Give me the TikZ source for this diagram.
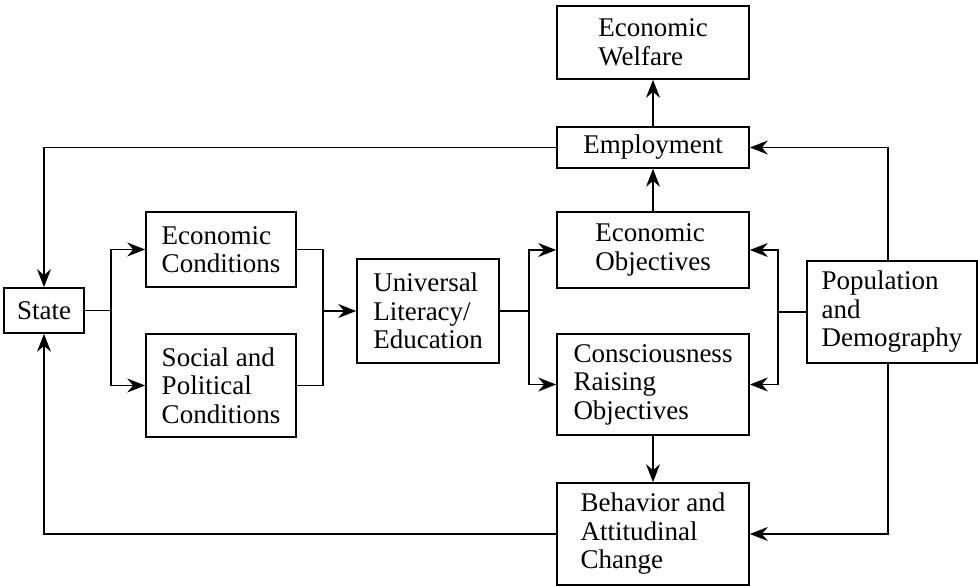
\documentclass[tikz,border=0pt]{standalone}
\usepackage{fontspec}
\setmainfont{Liberation Serif}
\usetikzlibrary{arrows.meta}
\begin{document}
\begin{tikzpicture}[x=1pt,y=-1pt,
  box/.style={draw, line width=1.7pt, align=left, inner sep=0pt,
    font=\fontsize{27}{28.5}\selectfont},
  conn/.style={line width=1.3pt},
  arr/.style={conn, -{Stealth[length=18pt,width=14pt,inset=6pt]}}]
\useasboundingbox (0,0) rectangle (978,586);
% nodes
\node[box, minimum width=192pt, minimum height=73pt] (welfare) at (653,42.5) {Economic\\Welfare};
\node[box, minimum width=192pt, minimum height=41pt] (employ) at (653,147.5) {Employment};
\node[box, minimum width=192pt, minimum height=76pt] (eobj) at (653,250) {Economic\\Objectives};
\node[box, minimum width=192pt, minimum height=101pt] (consc) at (653,384.5) {Consciousness\\Raising\\Objectives};
\node[box, minimum width=192pt, minimum height=102pt] (behav) at (653,534) {Behavior and\\Attitudinal\\Change};
\node[box, minimum width=170pt, minimum height=102pt] (pop) at (892,312) {Population\\and\\Demography};
\node[box, minimum width=142pt, minimum height=104pt] (univ) at (428,311) {Universal\\Literacy/\\Education};
\node[box, minimum width=150pt, minimum height=75pt] (econd) at (221,249.5) {Economic\\Conditions};
\node[box, minimum width=150pt, minimum height=103pt] (social) at (221,385.5) {Social and\\Political\\Conditions};
\node[box, minimum width=80pt, minimum height=45pt] (state) at (44,310.5) {State};
% junctions
\coordinate (b1) at (111,310.5);
\coordinate (m1) at (323,311);
\coordinate (b2) at (529,311);
\coordinate (b3) at (778,312);
% connectors
\draw[conn] (state.east) -- (b1);
\draw[arr] (b1) |- (econd.west);
\draw[arr] (b1) |- (social.west);
\draw[conn] (econd.east) -| (m1);
\draw[conn] (social.east) -| (m1);
\draw[arr] (m1) -- (univ.west);
\draw[conn] (univ.east) -- (b2);
\draw[arr] (b2) |- (eobj.west);
\draw[arr] (b2) |- (consc.west);
\draw[conn] (pop.west) -- (b3);
\draw[arr] (b3) |- (eobj.east);
\draw[arr] (b3) |- (consc.east);
\draw[arr] ([xshift=-4pt]pop.north) |- (employ.east);
\draw[arr] ([xshift=-4pt]pop.south) |- (behav.east);
\draw[arr] (eobj.north) -- (employ.south);
\draw[arr] (employ.north) -- (welfare.south);
\draw[arr] (consc.south) -- (behav.north);
\draw[arr] (employ.west) -| (state.north);
\draw[arr] (behav.west) -| (state.south);
\end{tikzpicture}
\end{document}
